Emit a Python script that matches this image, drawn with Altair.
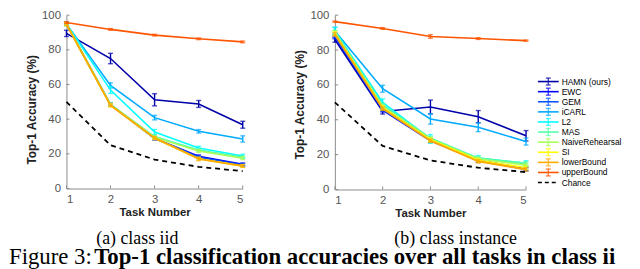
import altair as alt
import pandas as pd

# ---------------- data ----------------
tasks = [1, 2, 3, 4, 5]
y_ticks = [0, 20, 40, 60, 80, 100]
methods = ["HAMN (ours)", "EWC", "GEM", "iCARL", "L2", "MAS",
           "NaiveRehearsal", "SI", "lowerBound", "upperBound"]
colors = ["#0000aa", "#0000ff", "#0055ff", "#00aaff", "#00ffff",
          "#55ffaa", "#aaff55", "#ffff00", "#ffaa00", "#ff5500"]
chance = [50.0, 25.0, 16.7, 12.5, 10.0]

# (a) class iid
iid_hamn = [89.5, 75.0, 51.2, 48.8, 36.8]
iid_ewc = [95.0, 48.3, 28.8, 18.6, 14.0]
iid_gem = [95.0, 48.5, 29.0, 18.0, 13.6]
iid_icarl = [95.0, 59.5, 40.9, 33.0, 28.6]
iid_l2 = [95.0, 56.8, 32.6, 23.4, 18.8]
iid_mas = [95.0, 48.5, 30.0, 22.2, 18.0]
iid_naive = [95.0, 48.2, 29.5, 21.6, 17.5]
iid_si = [94.8, 48.0, 29.0, 17.2, 13.0]
iid_lower = [94.8, 48.0, 29.2, 17.1, 13.0]
iid_upper = [95.8, 91.8, 88.5, 86.4, 84.6]

iid_hamn_err = [1.8, 3.0, 3.5, 2.0, 2.0]
iid_ewc_err = [0.8, 0.8, 0.8, 0.8, 0.8]
iid_gem_err = [0.8, 0.8, 0.8, 0.8, 0.8]
iid_icarl_err = [1.0, 1.5, 1.3, 1.0, 1.8]
iid_l2_err = [1.0, 2.0, 1.5, 1.0, 1.0]
iid_mas_err = [0.8, 0.8, 0.8, 0.8, 0.8]
iid_naive_err = [0.8, 0.8, 0.8, 0.8, 0.8]
iid_si_err = [0.8, 0.8, 0.8, 0.8, 0.8]
iid_lower_err = [0.8, 0.8, 0.8, 1.0, 0.8]
iid_upper_err = [0.5, 0.5, 0.5, 0.5, 0.5]

# (b) class instance
inst_hamn = [86.0, 44.8, 47.3, 41.8, 30.8]
inst_ewc = [87.5, 45.5, 28.0, 16.8, 12.0]
inst_gem = [88.0, 46.0, 28.2, 16.5, 11.5]
inst_icarl = [91.0, 57.8, 40.5, 35.7, 27.5]
inst_l2 = [91.0, 50.0, 29.0, 18.0, 15.0]
inst_mas = [90.5, 48.5, 29.5, 18.0, 15.0]
inst_naive = [90.0, 47.5, 29.0, 17.5, 14.0]
inst_si = [89.5, 47.0, 28.5, 16.8, 12.5]
inst_lower = [89.0, 46.4, 28.0, 16.2, 11.5]
inst_upper = [96.3, 92.4, 87.8, 86.6, 85.4]

inst_hamn_err = [1.5, 1.5, 4.0, 3.5, 3.0]
inst_ewc_err = [1.0, 1.0, 1.0, 1.0, 1.0]
inst_gem_err = [1.0, 1.0, 1.0, 1.0, 1.0]
inst_icarl_err = [2.0, 2.0, 3.0, 2.5, 2.0]
inst_l2_err = [2.0, 2.0, 2.5, 1.5, 1.5]
inst_mas_err = [1.0, 1.0, 1.0, 1.0, 1.0]
inst_naive_err = [1.0, 1.0, 1.0, 1.0, 1.0]
inst_si_err = [1.0, 1.0, 1.0, 1.0, 1.0]
inst_lower_err = [1.0, 1.0, 1.0, 1.0, 1.0]
inst_upper_err = [0.4, 0.5, 1.0, 0.5, 0.4]

legend_names = methods + ["Chance"]
subcaptions = ["(a) class iid", "(b) class instance"]
caption_lead = ["Figure 3:"]
caption_bold = ["Top-1 classification accuracies over all tasks in class iid"]

iid_acc = [iid_hamn, iid_ewc, iid_gem, iid_icarl, iid_l2, iid_mas, iid_naive, iid_si, iid_lower, iid_upper]
iid_err = [iid_hamn_err, iid_ewc_err, iid_gem_err, iid_icarl_err, iid_l2_err, iid_mas_err,
           iid_naive_err, iid_si_err, iid_lower_err, iid_upper_err]
inst_acc = [inst_hamn, inst_ewc, inst_gem, inst_icarl, inst_l2, inst_mas, inst_naive, inst_si, inst_lower, inst_upper]
inst_err = [inst_hamn_err, inst_ewc_err, inst_gem_err, inst_icarl_err, inst_l2_err, inst_mas_err,
            inst_naive_err, inst_si_err, inst_lower_err, inst_upper_err]

SANS = "Liberation Sans"
SERIF = "Liberation Serif"
AXIS_GRAY = "#8c8c8c"


def panel(acc, err, width, height, title_y, pad_left=False):
    rows = []
    for k, m in enumerate(methods):
        for t, a, e in zip(tasks, acc[k], err[k]):
            rows.append(dict(method=m, task=t, acc=a, lo=a - e, hi=a + e))
    df = pd.DataFrame(rows)
    cdf = pd.DataFrame({"task": tasks, "acc": chance})
    xdf = pd.DataFrame({"task": tasks})
    ydf = pd.DataFrame({"v": y_ticks})

    xscale = alt.Scale(domain=[1, 5], nice=False, zero=False)
    yscale = alt.Scale(domain=[0, 100], nice=False)
    xaxis = alt.Axis(values=tasks, format="d", title="Task Number", ticks=False,
                     labelPadding=5, titlePadding=2, titleFontSize=11.5)
    yaxis = alt.Axis(values=y_ticks, title="Top-1 Accuracy (%)", ticks=False,
                     labelPadding=6, titlePadding=3, titleFontSize=12, titleY=title_y)
    X = alt.X("task:Q", scale=xscale, axis=xaxis)
    color = alt.Color("method:N", scale=alt.Scale(domain=methods, range=colors), legend=None)

    layers = []
    # inward ticks
    layers.append(alt.Chart(xdf).mark_rule(color=AXIS_GRAY, strokeWidth=1).encode(
        x=X, y=alt.datum(0, scale=yscale, axis=yaxis), y2=alt.datum(1.8)))
    layers.append(alt.Chart(ydf).mark_rule(color=AXIS_GRAY, strokeWidth=1).encode(
        y=alt.Y("v:Q", scale=yscale, axis=yaxis), x=alt.datum(1, scale=xscale, axis=xaxis), x2=alt.datum(1.07)))
    if pad_left:
        # white spacer that reserves the page's left strip for the caption
        layers.append(alt.Chart(xdf.head(1)).mark_rule(color="white", strokeWidth=1).encode(
            x=alt.value(-58), x2=alt.value(-57), y=alt.value(0)))

    for m in methods:
        base = alt.Chart(df).transform_filter(alt.datum.method == m)
        sw = 1.9 if m == "lowerBound" else 1.6
        layers.append(base.mark_line(strokeWidth=sw).encode(
            x=X, y=alt.Y("acc:Q", scale=yscale, axis=yaxis), color=color))
        layers.append(base.mark_rule(strokeWidth=1.4).encode(
            x=X, y=alt.Y("lo:Q", scale=yscale, axis=yaxis), y2="hi:Q", color=color))
        for f in ["lo", "hi"]:
            layers.append(base.mark_tick(orient="horizontal", size=5, thickness=1.4).encode(
                x=X, y=alt.Y(f + ":Q", scale=yscale, axis=yaxis), color=color))

    layers.append(alt.Chart(cdf).mark_line(color="black", strokeWidth=1.8, strokeDash=[5, 4]).encode(
        x=X, y=alt.Y("acc:Q", scale=yscale, axis=yaxis)))

    return alt.layer(*layers).properties(width=width, height=height)


left = panel(iid_acc, iid_err, 178, 175, 95, pad_left=True)
right = panel(inst_acc, inst_err, 193, 176, 90)

# ---------------- legend ----------------
leg_df = pd.DataFrame({"name": legend_names, "idx": list(range(len(legend_names)))})
ly = alt.Y("idx:Q", scale=alt.Scale(domain=[-6.57, 11.08], reverse=True), axis=None)
lcolor = alt.Color("name:N", scale=alt.Scale(domain=legend_names, range=colors + ["#000000"]), legend=None)
lbase = alt.Chart(leg_df)
lsolid = lbase.transform_filter(alt.datum.name != "Chance")
ldash = lbase.transform_filter(alt.datum.name == "Chance")
legend = alt.layer(
    lsolid.mark_rule(strokeWidth=1.6).encode(x=alt.value(0), x2=alt.value(21), y=ly, color=lcolor),
    lsolid.mark_tick(orient="vertical", size=7, thickness=1.4).encode(x=alt.value(10.5), y=ly, color=lcolor),
    lsolid.mark_tick(orient="horizontal", size=5, thickness=1.4, yOffset=-3.5).encode(x=alt.value(10.5), y=ly, color=lcolor),
    lsolid.mark_tick(orient="horizontal", size=5, thickness=1.4, yOffset=3.5).encode(x=alt.value(10.5), y=ly, color=lcolor),
    ldash.mark_rule(strokeWidth=1.6, strokeDash=[4, 3], color="black").encode(x=alt.value(0), x2=alt.value(21), y=ly),
    lbase.mark_text(align="left", baseline="middle", font=SANS, fontSize=8.5, color="black").encode(
        x=alt.value(24), y=ly, text="name:N"),
).properties(width=95, height=180)

# ---------------- captions (sub-captions + figure caption) ----------------
def txt(s, x, y, size, weight="normal", align="left", limit=0):
    kw = dict(align=align, baseline="alphabetic", font=SERIF, fontSize=size,
              fontWeight=weight, color="black")
    if limit:
        kw.update(limit=limit, ellipsis="\u200b")
    return alt.Chart(pd.DataFrame({"t": [s]})).mark_text(**kw).encode(
        text="t:N", x=alt.value(x), y=alt.value(y))

cap = alt.layer(
    txt(subcaptions[0], 71.5, 14.4, 18, align="center"),
    txt(subcaptions[1], 393, 14.4, 18, align="center"),
    txt(caption_lead[0], -58, 34.4, 23),
    txt(caption_bold[0], 28, 34.4, 23, weight="bold", limit=537),
).properties(width=560, height=39)

top = alt.hconcat(left, alt.hconcat(right, legend, spacing=7), spacing=47)
chart = alt.vconcat(top, cap, spacing=11).properties(
    padding={"left": 0, "top": 0, "right": 0, "bottom": 0}
).configure_view(stroke=None).configure_axis(
    domainColor=AXIS_GRAY, domainWidth=1, labelFont=SANS, labelFontSize=11.5,
    labelColor="#555555", titleFont=SANS, titleFontWeight="bold", titleColor="#222222", grid=False
)

chart.save("out.html", embed_options={"renderer": "svg", "actions": False})
